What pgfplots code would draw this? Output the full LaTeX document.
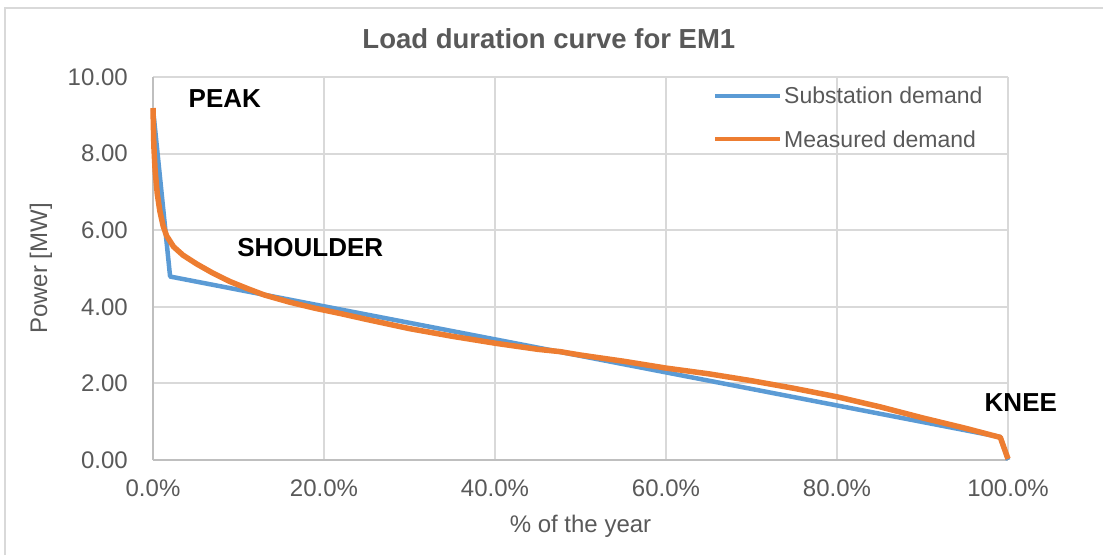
\documentclass[border=0pt]{standalone}
\usepackage{fontspec}
\setmainfont{Liberation Sans}
\usepackage{pgfplots}
\pgfplotsset{compat=1.18}
\definecolor{txt}{HTML}{595959}
\definecolor{gridc}{HTML}{D9D9D9}
\definecolor{axc}{HTML}{BFBFBF}
\definecolor{blueS}{HTML}{5B9BD5}
\definecolor{orangeM}{HTML}{ED7D31}
\begin{document}
\begin{tikzpicture}
\useasboundingbox (0pt,0pt) rectangle (1103pt,555pt);
\draw[gridc, line width=2pt] (5pt,0pt) -- (5pt,547pt) -- (1103pt,547pt);
\begin{axis}[
  at={(153pt,95pt)}, anchor=south west,
  scale only axis, width=855pt, height=383pt,
  xmin=0, xmax=100, ymin=0, ymax=10,
  clip=false,
  xtick={0,20,40,60,80,100},
  xticklabels={0.0\%,20.0\%,40.0\%,60.0\%,80.0\%,100.0\%},
  ytick={0,2,4,6,8,10},
  /pgf/number format/assume math mode=true,
  yticklabel={\pgfmathprintnumber[fixed,fixed zerofill,precision=2]{\tick}},
  major tick length=0pt,
  grid=major,
  major grid style={gridc, line width=2pt},
  axis x line*=bottom, axis y line*=left,
  axis line style={axc, line width=2.5pt, -},
  ticklabel style={font=\fontsize{24}{28}\selectfont, text=txt, inner sep=0pt},
  xticklabel style={anchor=north, yshift=-20pt},
  yticklabel style={anchor=east, xshift=-25pt},
  xlabel={\% of the year},
  ylabel={Power [MW]},
  label style={font=\fontsize{24}{28}\selectfont, text=txt},
  xlabel style={at={(axis description cs:0.5,-0.172)}, anchor=center},
  ylabel style={at={(axis description cs:-0.131,0.5)}, anchor=center, rotate=0},
  title={\textbf{Load duration curve for EM1}},
  title style={font=\fontsize{27.5}{32}\selectfont, text=txt, at={(axis description cs:0.463,1.084)}, anchor=center},
  legend style={at={(axis description cs:0.655,0.979)}, anchor=north west, draw=none, fill=none,
    font=\fontsize{23}{27}\selectfont, text=txt, inner sep=0pt, row sep=21pt},
  legend cell align=left,
  legend image code/.code={\draw[#1, line width=4pt] (0pt,0pt) -- (65pt,0pt);},
]
\addplot[blueS, line width=4.5pt, line join=round] coordinates {
(0,9.17) (2.0,4.79) (99.1,0.60) (100,0.0)
};
\addlegendentry{Substation demand}
\addplot[orangeM, line width=5.5pt, line join=round] coordinates {
(0,9.19) (0.1,8.2) (0.25,7.55) (0.5,6.95) (0.8,6.5) (1.2,6.1) (1.6,5.85)
(2.4,5.57) (3.5,5.35) (5.1,5.12) (7,4.88) (9,4.66) (11,4.48) (13,4.31)
(16,4.12) (19,3.96) (22,3.82) (25,3.67) (30,3.43) (35,3.23) (40,3.05)
(45,2.89) (47.6,2.83) (50,2.74) (55,2.58) (60,2.40) (65,2.25) (70,2.07)
(75,1.87) (80,1.65) (85,1.39) (90,1.10) (95,0.83) (99.1,0.59) (100,0.03)
};
\addlegendentry{Measured demand}
\node[font=\fontsize{26}{30}\selectfont\bfseries] at (axis cs:8.4,9.43) {PEAK};
\node[font=\fontsize{26}{30}\selectfont\bfseries] at (axis cs:18.4,5.54) {SHOULDER};
\node[font=\fontsize{26}{30}\selectfont\bfseries] at (axis cs:101.5,1.49) {KNEE};
\end{axis}
\end{tikzpicture}
\end{document}
